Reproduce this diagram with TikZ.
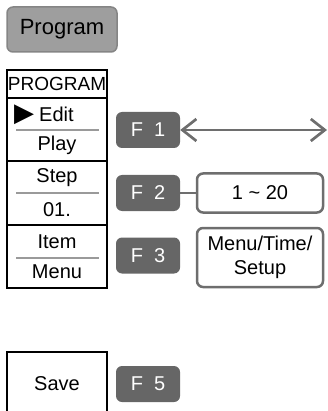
\documentclass[tikz,border=0pt]{standalone}
\usepackage{fontspec}
\setmainfont{Liberation Sans}
\newfontfamily\symfont{DejaVu Sans}
\usetikzlibrary{positioning,arrows.meta}
\definecolor{btngray}{HTML}{9E9E9E}
\definecolor{btnedge}{HTML}{858585}
\definecolor{keygray}{HTML}{666666}
\definecolor{linegray}{HTML}{6E6E6E}
\definecolor{rulegray}{HTML}{9A9A9A}

\begin{document}
\begin{tikzpicture}[
  x=1pt,y=-1pt,
  font=\fontsize{20}{24}\selectfont,
  btn/.style={draw=btnedge,line width=1.5pt,fill=btngray,rounded corners=6pt,minimum width=110pt,minimum height=45pt,font=\fontsize{22}{26}\selectfont},
  cell/.style={draw,line width=1.2pt,minimum width=100pt,inner sep=0pt},
  fkey/.style={fill=keygray,rounded corners=6pt,minimum width=64pt,minimum height=36pt,text=white,font=\fontsize{20}{22}\selectfont},
  valbox/.style={draw=linegray,line width=2.5pt,fill=white,rounded corners=6pt,minimum width=126pt,align=center,inner sep=0pt},
  ar/.style={linegray,line width=2.7pt},
  barb/.tip={Straight Barb[length=14pt,width=22pt]},
  sep/.style={rulegray,line width=2pt},
  lbl/.style={inner sep=0pt}
]
\useasboundingbox (0,0) rectangle (328,411);
% menu column
\node[btn] (prog) at (62,29.5) {Program};
\node[cell,minimum height=28pt,font=\fontsize{19}{22}\selectfont] (title) at (57,84) {PROGRAM};
\node[cell,minimum height=63pt] (secA) at (57,129.5) {};
\node[cell,minimum height=64pt] (secB) at (57,193) {};
\node[cell,minimum height=63pt] (secC) at (57,256.5) {};
\node[cell,minimum height=64pt] (save) at (57,384) {Save};
\draw[sep] (16,130) -- (99,130);
\draw[sep] (16,193) -- (99,193);
\draw[sep] (16,258) -- (99,258);
\node[lbl,anchor=west] (edit) at (14,115) {{\symfont\fontsize{26}{28}\selectfont ▶}\hspace{5pt}Edit};
\node[lbl] (play) at (57,145) {Play};
\node[lbl] (step) at (57,178) {Step};
\node[lbl] (cnt)  at (57,210) {01.};
\node[lbl] (item) at (57,242) {Item};
\node[lbl] (menu) at (57,272) {Menu};
% function keys
\node[fkey] (f1) at (148,130) {F\ \ 1};
\node[fkey] (f2) at (148,193) {F\ \ 2};
\node[fkey] (f3) at (148,255.5) {F\ \ 3};
\node[fkey] (f5) at (148,384) {F\ \ 5};
\node[valbox,minimum height=39pt] (range) at (260,193) {1 \textasciitilde\ 20};
\node[valbox,minimum height=59pt] (setup) at (260,257.5) {Menu/Time/\\Setup};
\coordinate (f1end) at (327,130);
\draw[ar,barb-barb] (f1) -- (f1end);
\draw[ar] (f2) -- (range);
\end{tikzpicture}
\end{document}
